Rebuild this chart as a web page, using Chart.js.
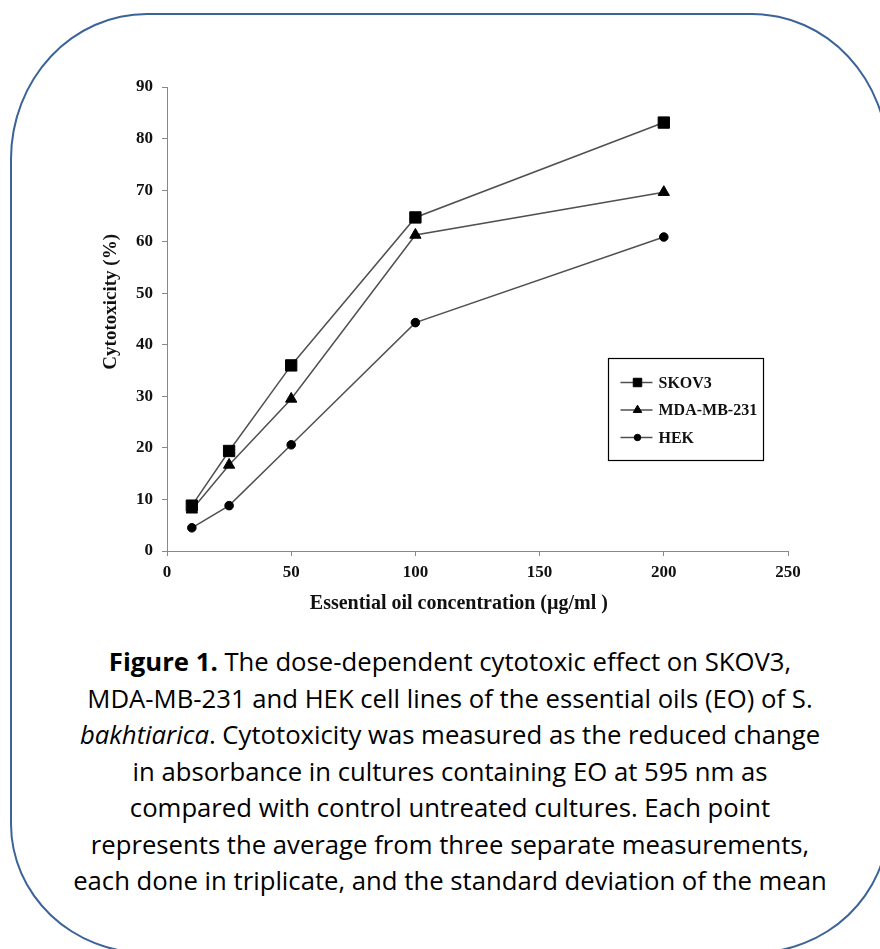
<!DOCTYPE html>
<html>
<head>
<meta charset="utf-8">
<script src="https://cdn.jsdelivr.net/npm/chart.js@4.4.1/dist/chart.umd.min.js"></script>
<style>
  body { margin: 0; background: #fff; }
  #page { position: relative; width: 880px; height: 949px; overflow: hidden; background: #fff; }
  #frame { position: absolute; left: 10px; top: 13px; width: 879px; height: 941px; box-sizing: border-box;
           border: 2px solid #3b6399; border-radius: 137px 137px 137px 137px / 146px 146px 130px 130px; }
  #wrap { position: absolute; left: 0; top: 0; width: 880px; height: 640px; }
  #caption { position: absolute; left: 10px; top: 644px; width: 880px; text-align: center;
             font-family: "Open Sans", "Noto Sans", sans-serif; font-size: 25.7px; line-height: 36.5px; color: #000; }
</style>
</head>
<body>
<div id="page">
  <div id="frame"></div>
  <div id="wrap"><canvas id="chart" width="880" height="640"></canvas></div>
  <div id="caption">
    <b>Figure 1.</b> The dose-dependent cytotoxic effect on SKOV3,<br>
    MDA-MB-231 and HEK cell lines of the essential oils (EO) of S.<br>
    <i>bakhtiarica</i>. Cytotoxicity was measured as the reduced change<br>
    in absorbance in cultures containing EO at 595 nm as<br>
    compared with control untreated cultures. Each point<br>
    represents the average from three separate measurements,<br>
    each done in triplicate, and the standard deviation of the mean
  </div>
</div>
<script>
// concentrations (µg/ml)
const concentrations = [10, 25, 50, 100, 200];
// cytotoxicity (%)
const skov3 = [8.8, 19.4, 36.0, 64.7, 83.1];
const mdaMb231 = [8.0, 16.7, 29.5, 61.3, 69.6];
const hek = [4.5, 8.8, 20.6, 44.3, 60.9];

const seriesNames = ['SKOV3', 'MDA-MB-231', 'HEK'];
const xTitle = 'Essential oil concentration (\u00b5g/ml )';
const yTitle = 'Cytotoxicity (%)';

function toPoints(values) {
  return concentrations.map((c, i) => ({ x: c, y: values[i] }));
}

const serif = '"Liberation Serif", "Times New Roman", serif';

// axis titles (not centred on the plot in the original)
const axisTitles = {
  id: 'axisTitles',
  afterDraw(chart) {
    const { ctx, chartArea: a } = chart;
    ctx.save();
    ctx.fillStyle = '#111';
    ctx.textAlign = 'center';
    ctx.textBaseline = 'middle';
    ctx.font = 'bold 20px ' + serif;
    ctx.fillText(xTitle, a.left + a.width * 0.47, a.bottom + 53);
    ctx.translate(a.left - 56, a.top + a.height * 0.463);
    ctx.rotate(-Math.PI / 2);
    ctx.font = 'bold 19px ' + serif;
    ctx.fillText(yTitle, 0, 0);
    ctx.restore();
  }
};

// boxed legend inside the plot
const boxLegend = {
  id: 'boxLegend',
  afterDraw(chart) {
    const { ctx, chartArea: a } = chart;
    const x0 = Math.round(a.left + a.width * 0.71) + 0.5;
    const y0 = Math.round(a.top + a.height * 0.584) + 0.5;
    ctx.save();
    ctx.strokeStyle = '#000';
    ctx.lineWidth = 1.2;
    ctx.strokeRect(x0, y0, 155, 102);
    chart.data.datasets.forEach((ds, i) => {
      const cy = y0 + 24 + i * 27.5;
      ctx.strokeStyle = ds.borderColor;
      ctx.lineWidth = ds.borderWidth;
      ctx.beginPath();
      ctx.moveTo(x0 + 12, cy);
      ctx.lineTo(x0 + 44, cy);
      ctx.stroke();
      ctx.fillStyle = '#000';
      ctx.strokeStyle = '#000';
      ctx.lineWidth = 1;
      Chart.helpers.drawPoint(ctx, { pointStyle: ds.pointStyle, radius: ds.pointRadius * 0.75, borderWidth: 1 }, x0 + 29, cy);
      ctx.font = 'bold 16px ' + serif;
      ctx.textBaseline = 'middle';
      ctx.fillStyle = '#111';
      ctx.fillText(ds.label, x0 + 50, cy + 1);
    });
    ctx.restore();
  }
};

const lineColor = '#505050';

new Chart(document.getElementById('chart'), {
  type: 'line',
  data: {
    datasets: [
      { label: seriesNames[0], data: toPoints(skov3), pointStyle: 'rect', pointRadius: 8 },
      { label: seriesNames[1], data: toPoints(mdaMb231), pointStyle: 'triangle', pointRadius: 6.5 },
      { label: seriesNames[2], data: toPoints(hek), pointStyle: 'circle', pointRadius: 4.3 }
    ].map(ds => Object.assign(ds, {
      borderColor: lineColor,
      borderWidth: 1.5,
      backgroundColor: '#000',
      pointBackgroundColor: '#000',
      pointBorderColor: '#000',
      pointBorderWidth: 1,
      tension: 0
    }))
  },
  options: {
    responsive: false,
    animation: false,
    events: [],
    layout: { padding: { left: 107, top: 87, right: 92, bottom: 59 } },
    plugins: { legend: { display: false }, tooltip: { enabled: false } },
    scales: {
      x: {
        type: 'linear',
        min: 0, max: 250,
        afterFit: s => { s.height = 30; },
        ticks: { stepSize: 50, padding: 6, color: '#111', font: { family: serif, size: 17, weight: 'bold' } },
        grid: { drawOnChartArea: false, drawTicks: true, tickLength: 5, color: '#888' },
        border: { display: true, color: '#888', width: 1 }
      },
      y: {
        min: 0, max: 90,
        afterFit: s => { s.width = 60; },
        ticks: { stepSize: 10, padding: 9, color: '#111', font: { family: serif, size: 17, weight: 'bold' } },
        grid: { drawOnChartArea: false, drawTicks: true, tickLength: 5, color: '#888' },
        border: { display: true, color: '#888', width: 1 }
      }
    }
  },
  plugins: [axisTitles, boxLegend]
});
</script>
</body>
</html>
